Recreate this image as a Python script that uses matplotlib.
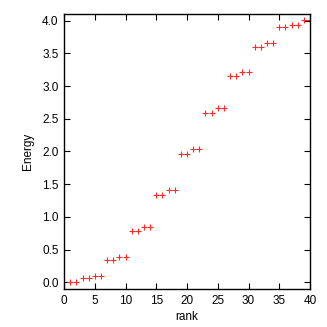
import matplotlib
matplotlib.use("Agg")
import matplotlib.pyplot as plt

rank = list(range(1, 41))
energy = [0.0, 0.0, 0.07, 0.07, 0.1, 0.1, 0.34, 0.34, 0.38, 0.38,
          0.78, 0.78, 0.84, 0.84, 1.33, 1.33, 1.41, 1.41, 1.96, 1.96,
          2.04, 2.04, 2.58, 2.58, 2.66, 2.66, 3.15, 3.15, 3.22, 3.22,
          3.60, 3.60, 3.65, 3.65, 3.90, 3.90, 3.93, 3.93, 4.01, 4.01]
xticks = [0, 5, 10, 15, 20, 25, 30, 35, 40]
yticks = [0.0, 0.5, 1.0, 1.5, 2.0, 2.5, 3.0, 3.5, 4.0]

plt.rcParams['font.family'] = ['Liberation Sans', 'DejaVu Sans']
fig = plt.figure(figsize=(3.27, 3.27), dpi=100)
ax = fig.add_axes([0.196, 0.115, 0.752, 0.842])
ax.plot(rank, energy, linestyle='none', marker='+', color='#ff2a2a',
        markersize=5, markeredgewidth=0.8)
ax.set_xlim(0, 40)
ax.set_ylim(-0.11, 4.1)
ax.set_xticks(xticks)
ax.set_yticks(yticks)
ax.set_yticklabels(["%.1f" % v for v in yticks])
ax.tick_params(direction='in', length=4, width=0.8, top=True, right=True,
               labelsize=8.5, pad=4)
for s in ax.spines.values():
    s.set_linewidth(1)
ax.set_xlabel("rank", fontsize=8.5, labelpad=3)
ax.set_ylabel("Energy", fontsize=8.5, labelpad=6)
fig.savefig("out.png", dpi=100)
